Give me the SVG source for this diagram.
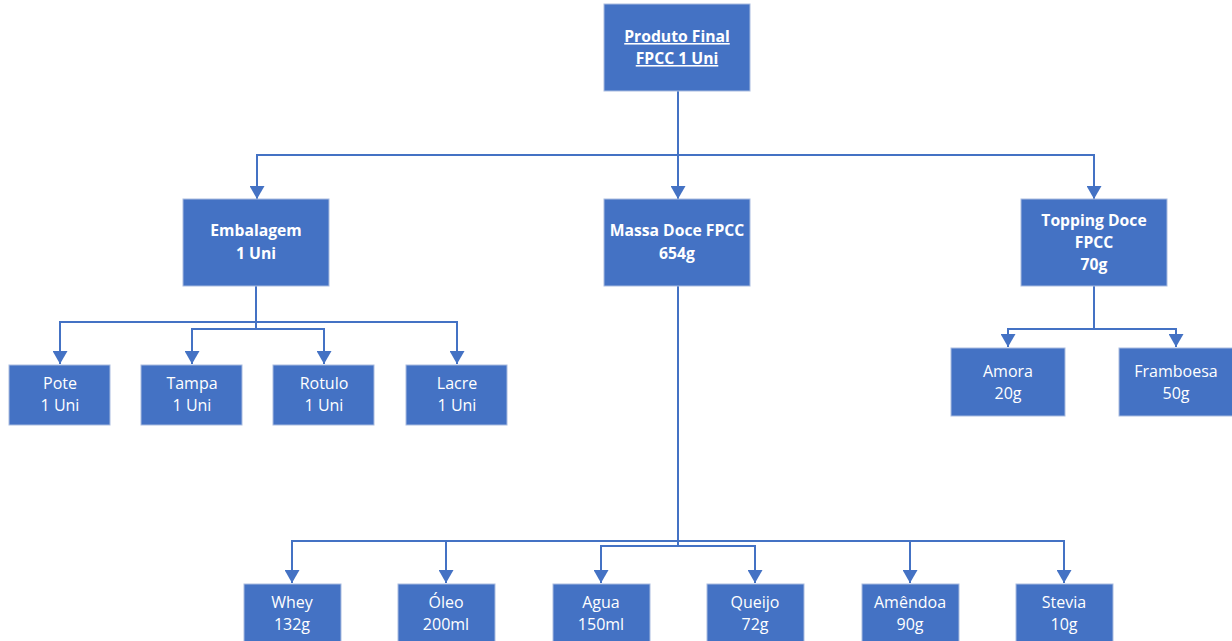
<svg xmlns="http://www.w3.org/2000/svg" width="1232" height="641" viewBox="0 0 1232 641">
<style>
.box{fill:#4472C4;stroke:#A9BCE0;stroke-width:1}
.t{font-family:"Open Sans","Noto Sans","Liberation Sans",sans-serif;font-size:16px;fill:#FFFFFF;text-anchor:middle}
.b{font-weight:bold;font-size:15.7px}
.u{text-decoration:underline}
.c{fill:none;stroke:#4472C4;stroke-width:2}
</style>
<defs>
<marker id="arr" viewBox="0 0 14 15" refX="13" refY="7.5" markerWidth="14" markerHeight="15" markerUnits="userSpaceOnUse" orient="auto">
<path d="M0,0 L13,7.5 L0,15 Z" fill="#4472C4"/>
</marker>
</defs>
<rect width="1232" height="641" fill="#FFFFFF"/>
<g id="connectors">
<path class="c" d="M678,91 V155"/>
<path class="c" d="M678,155 H257 V199" marker-end="url(#arr)"/>
<path class="c" d="M678,155 V199" marker-end="url(#arr)"/>
<path class="c" d="M678,155 H1094 V199" marker-end="url(#arr)"/>
<path class="c" d="M256,286 V329"/>
<path class="c" d="M256,322 H60 V364" marker-end="url(#arr)"/>
<path class="c" d="M256,322 H457 V364" marker-end="url(#arr)"/>
<path class="c" d="M256,329 H192 V364" marker-end="url(#arr)"/>
<path class="c" d="M256,329 H324 V364" marker-end="url(#arr)"/>
<path class="c" d="M1094,286 V329"/>
<path class="c" d="M1094,329 H1008 V347" marker-end="url(#arr)"/>
<path class="c" d="M1094,329 H1176 V347" marker-end="url(#arr)"/>
<path class="c" d="M678,286 V546"/>
<path class="c" d="M678,541 H292 V583" marker-end="url(#arr)"/>
<path class="c" d="M678,541 H446 V583" marker-end="url(#arr)"/>
<path class="c" d="M678,541 H910 V583" marker-end="url(#arr)"/>
<path class="c" d="M678,541 H1064 V583" marker-end="url(#arr)"/>
<path class="c" d="M678,546 H601 V583" marker-end="url(#arr)"/>
<path class="c" d="M678,546 H755 V583" marker-end="url(#arr)"/>
</g>
<g id="produto-final">
<rect class="box" x="604" y="4" width="146" height="87"/>
<text class="t b u" x="677" y="42">Produto Final</text>
<text class="t b u" x="677" y="64">FPCC 1 Uni</text>
</g>
<g id="embalagem">
<rect class="box" x="183" y="199" width="146" height="87"/>
<text class="t b" x="256" y="236">Embalagem</text>
<text class="t b" x="256" y="259">1 Uni</text>
</g>
<g id="massa-doce">
<rect class="box" x="604" y="199" width="146" height="87"/>
<text class="t b" x="677" y="236">Massa Doce FPCC</text>
<text class="t b" x="677" y="259">654g</text>
</g>
<g id="topping-doce">
<rect class="box" x="1021" y="199" width="146" height="87"/>
<text class="t b" x="1094" y="226">Topping Doce</text>
<text class="t b" x="1094" y="248">FPCC</text>
<text class="t b" x="1094" y="270">70g</text>
</g>
<g id="pote">
<rect class="box" x="9" y="365" width="101" height="60"/>
<text class="t" x="60" y="389">Pote</text>
<text class="t" x="60" y="411">1 Uni</text>
</g>
<g id="tampa">
<rect class="box" x="141" y="365" width="101" height="60"/>
<text class="t" x="192" y="389">Tampa</text>
<text class="t" x="192" y="411">1 Uni</text>
</g>
<g id="rotulo">
<rect class="box" x="273" y="365" width="101" height="60"/>
<text class="t" x="324" y="389">Rotulo</text>
<text class="t" x="324" y="411">1 Uni</text>
</g>
<g id="lacre">
<rect class="box" x="406" y="365" width="101" height="60"/>
<text class="t" x="457" y="389">Lacre</text>
<text class="t" x="457" y="411">1 Uni</text>
</g>
<g id="amora">
<rect class="box" x="951" y="348" width="114" height="68"/>
<text class="t" x="1008" y="377">Amora</text>
<text class="t" x="1008" y="399">20g</text>
</g>
<g id="framboesa">
<rect class="box" x="1119" y="348" width="114" height="68"/>
<text class="t" x="1176" y="377">Framboesa</text>
<text class="t" x="1176" y="399">50g</text>
</g>
<g id="whey">
<rect class="box" x="244" y="584" width="97" height="62"/>
<text class="t" x="292" y="608">Whey</text>
<text class="t" x="292" y="630">132g</text>
</g>
<g id="oleo">
<rect class="box" x="398" y="584" width="97" height="62"/>
<text class="t" x="446" y="608">Óleo</text>
<text class="t" x="446" y="630">200ml</text>
</g>
<g id="agua">
<rect class="box" x="553" y="584" width="97" height="62"/>
<text class="t" x="601" y="608">Agua</text>
<text class="t" x="601" y="630">150ml</text>
</g>
<g id="queijo">
<rect class="box" x="707" y="584" width="97" height="62"/>
<text class="t" x="755" y="608">Queijo</text>
<text class="t" x="755" y="630">72g</text>
</g>
<g id="amendoa">
<rect class="box" x="862" y="584" width="97" height="62"/>
<text class="t" x="910" y="608">Amêndoa</text>
<text class="t" x="910" y="630">90g</text>
</g>
<g id="stevia">
<rect class="box" x="1016" y="584" width="97" height="62"/>
<text class="t" x="1064" y="608">Stevia</text>
<text class="t" x="1064" y="630">10g</text>
</g>
</svg>
